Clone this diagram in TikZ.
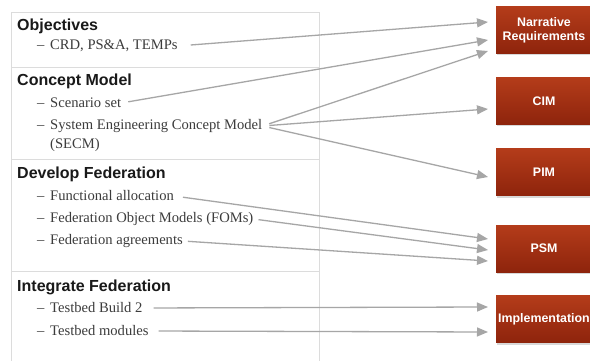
\documentclass[tikz,border=0pt]{standalone}
\usepackage{fontspec}
\setmainfont{Liberation Serif}
\setsansfont{Liberation Sans}
\usetikzlibrary{arrows.meta,shadows}
\definecolor{linegray}{HTML}{A6A6A6}
\definecolor{framegray}{HTML}{DCDCDC}
\definecolor{boxtop}{HTML}{B43C1A}
\definecolor{boxbot}{HTML}{8E240C}
\definecolor{itemgray}{HTML}{3C3C3C}
\begin{document}
\begin{tikzpicture}[x=1pt,y=-1pt,
  head/.style={anchor=west, inner sep=0pt, font=\sffamily\bfseries\fontsize{16}{18}\selectfont, text=black!90},
  item/.style={anchor=west, inner sep=0pt, font=\fontsize{14.6}{17}\selectfont, text=itemgray},
  model/.style={top color=boxtop, bottom color=boxbot, draw=none, minimum width=96pt, minimum height=47pt,
    text=white, font=\sffamily\bfseries\fontsize{12.4}{14}\selectfont, align=center, inner sep=0pt,
    drop shadow={opacity=0.3, shadow xshift=1pt, shadow yshift=-2pt}},
  conn/.style={draw=linegray, line width=1.3pt, -{Triangle[length=11pt,width=9pt]}}]
\useasboundingbox (0,0) rectangle (590,361);
\fill[white] (0,0) rectangle (590,361);
% table
\draw[framegray, line width=0.8pt] (11,368) -- (11,12) -- (319,12) -- (319,368);
\draw[framegray, line width=0.8pt] (11,67) -- (319,67);
\draw[framegray, line width=0.8pt] (11,159) -- (319,159);
\draw[framegray, line width=0.8pt] (11,271) -- (319,271);
% headings
\node[head] (h1) at (17,26) {Objectives};
\node[head] (h2) at (17,81) {Concept Model};
\node[head] (h3) at (17,174) {Develop Federation};
\node[head] (h4) at (17,287) {Integrate Federation};
% items
\newcommand{\dsh}{\makebox[13pt][l]{--}}
\node[item] (crd) at (37,46) {\dsh CRD, PS\&A, TEMPs};
\node[item] (scen) at (37,103) {\dsh Scenario set};
\node[item] (secm) at (37,126) {\dsh System Engineering Concept Model};
\node[item] (secmb) at (50,145) {(SECM)};
\node[item] (func) at (37,196) {\dsh Functional allocation};
\node[item] (fom) at (37,219) {\dsh Federation Object Models (FOMs)};
\node[item] (agr) at (37,241) {\dsh Federation agreements};
\node[item] (tb2) at (37,308) {\dsh Testbed Build 2};
\node[item] (tbm) at (37,331) {\dsh Testbed modules};
% model boxes
\node[model] (nr) at (544,30) {Narrative\\Requirements};
\node[model] (cim) at (544,101) {CIM};
\node[model] (pim) at (544,172) {PIM};
\node[model] (psm) at (544,248.5) {PSM};
\node[model] (impl) at (544,319) {Implementation};
% arrow targets
\coordinate (t1) at (488,22);
\coordinate (t2) at (488,40);
\coordinate (t3) at (488,51);
\coordinate (t4) at (488,109);
\coordinate (t5) at (488,177);
\coordinate (t6) at (488,239);
\coordinate (t7) at (488,250);
\coordinate (t8) at (488,261);
\coordinate (t9) at (488,307);
\coordinate (t10) at (488,332);
% connectors
\draw[conn, shorten <=13pt] (crd.east) -- (t1);
\draw[conn, shorten <=7pt] (scen.east) -- (t2);
\draw[conn, shorten <=7pt] (secm.east) -- (t3);
\draw[conn, shorten <=7pt] (secm.east) -- (t4);
\draw[conn, shorten <=7pt] (secm.east) -- (t5);
\draw[conn, shorten <=9pt] (func.east) -- (t6);
\draw[conn, shorten <=5pt] (fom.east) -- (t7);
\draw[conn, shorten <=5pt] (agr.east) -- (t8);
\draw[conn, shorten <=11pt] (tb2.east) -- (t9);
\draw[conn, shorten <=10pt] (tbm.east) -- (t10);
\end{tikzpicture}
\end{document}
